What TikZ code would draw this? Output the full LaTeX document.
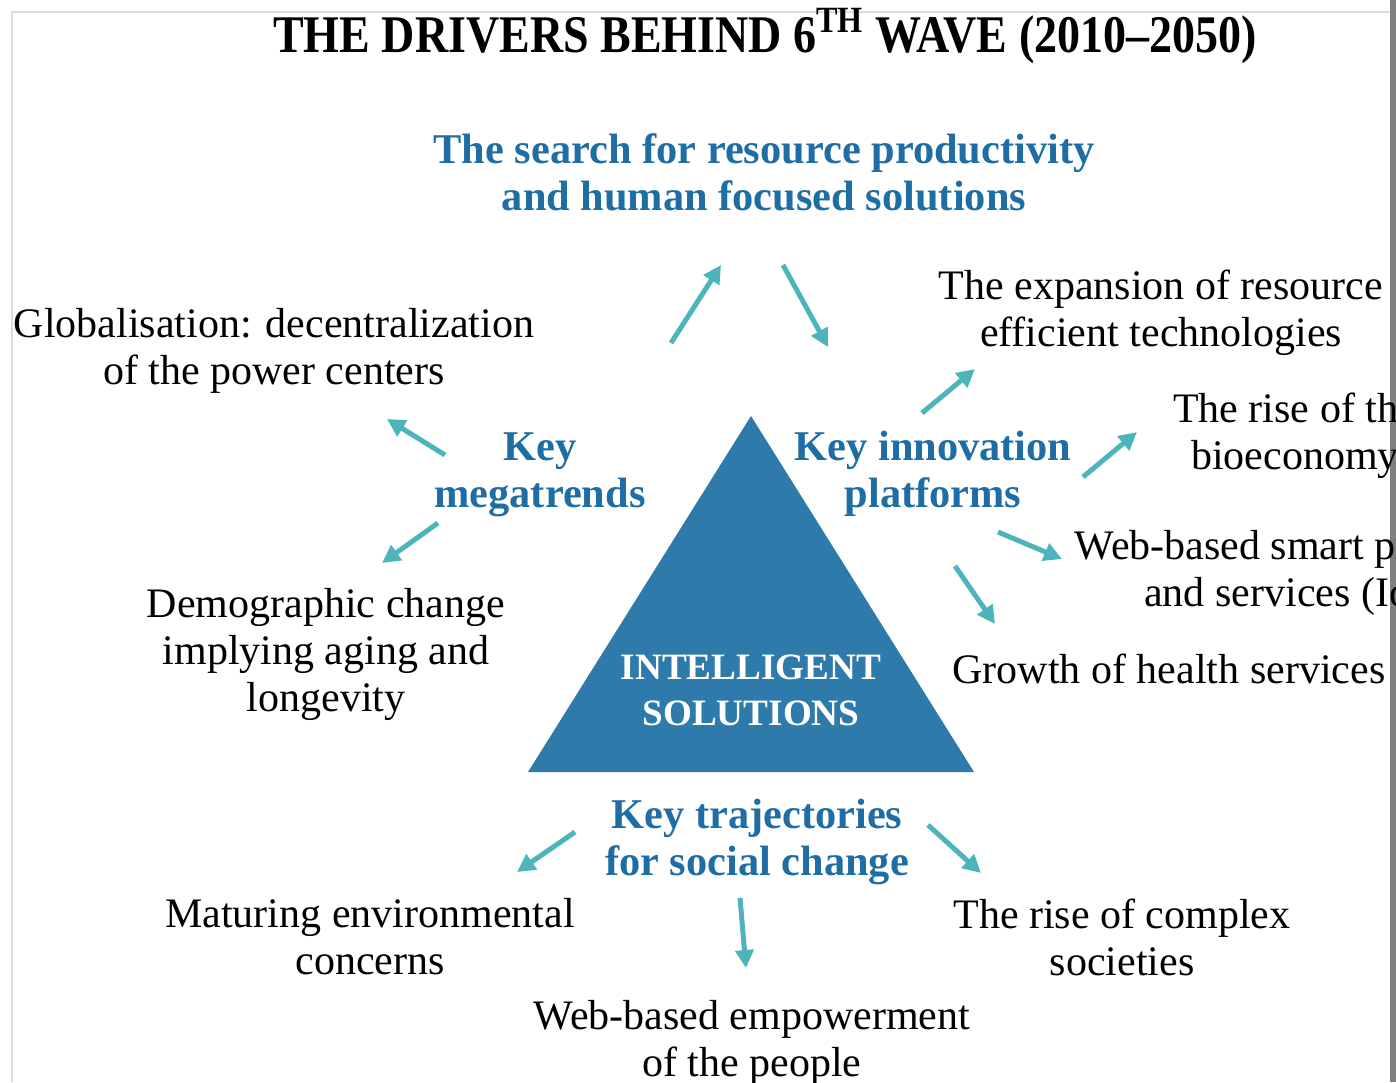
\documentclass[tikz,border=0pt]{standalone}
\usepackage{fontspec}
\setmainfont{Liberation Serif}
\usepackage{xcolor}
\usetikzlibrary{arrows.meta,positioning}
\definecolor{headblue}{RGB}{30,110,165}
\definecolor{triblue}{RGB}{46,123,171}
\definecolor{arrowteal}{RGB}{77,180,188}
\definecolor{framegray}{RGB}{220,220,220}
\definecolor{bargray}{RGB}{128,128,128}

\begin{document}
\begin{tikzpicture}[x=0.5pt,y=-0.5pt,
    item/.style={align=center,inner sep=0pt,font=\fontsize{21}{23.5}\selectfont},
    head/.style={item,text=headblue,font=\fontsize{21.2}{23.5}\selectfont\bfseries},
    pointer/.style={arrowteal,line width=2.5pt,-{Triangle[length=9pt,width=9pt]}}]
    \useasboundingbox (0,0) rectangle (1396,1082);
    \clip (0,0) rectangle (1396,1082);

    % Frame
    \draw[framegray,line width=1pt] (12,1082) -- (12,12) -- (1391,12);
    \fill[bargray] (1390,0) rectangle (1396,1082);

    % Title
    \node (title) at (765,36) {\scalebox{1}[1.15]{\fontsize{23}{26}\selectfont\bfseries THE DRIVERS BEHIND 6\textsuperscript{TH} WAVE (2010--2050)}};

    % Core
    \fill[triblue] (751,416) -- (974,772) -- (528,772) -- cycle;
    \node[item,text=white,font=\fontsize{18.6}{23}\selectfont\bfseries] (core) at (751,690) {INTELLIGENT\\SOLUTIONS};

    % Headings
    \node[head] (search) at (764,172) {The search for resource productivity\\and human focused solutions};
    \node[head] (megatrends) at (540,475) {Key\\megatrends};
    \node[head] (platforms) at (933,474) {Key innovation\\platforms};
    \node[head] (trajectories) at (757,842) {Key trajectories\\for social change};

    % Drivers
    \node[item] (global) at (274,351) {Globalisation: decentralization\\of the power centers};
    \node[item] (demo) at (326,654) {Demographic change\\implying aging and\\longevity};
    \node[item] (expansion) at (1161,313) {The expansion of resource\\efficient technologies};
    \node[item] (bio) at (1295,436) {The rise of the\\bioeconomy};
    \node[item] (smart) at (1297,573) {Web-based smart products\\and services (IoT)};
    \node[item] (health) at (1169,669) {Growth of health services};
    \node[item] (maturing) at (370,937) {Maturing environmental\\concerns};
    \node[item] (complex) at (1122,937) {The rise of complex\\societies};
    \node[item] (empower) at (752,1043) {Web-based empowerment\\of the people};

    % Arrows
    \coordinate (s1) at (671,343); \coordinate (s2) at (721,265);
    \coordinate (s3) at (783,265); \coordinate (s4) at (828,347);
    \coordinate (m1) at (445,455); \coordinate (m2) at (387,419);
    \coordinate (m3) at (438,523); \coordinate (m4) at (382,563);
    \coordinate (p1) at (922,413); \coordinate (p2) at (975,369);
    \coordinate (p3) at (1083,477); \coordinate (p4) at (1137,432);
    \coordinate (p5) at (998,532); \coordinate (p6) at (1062,559);
    \coordinate (p7) at (955,566); \coordinate (p8) at (995,624);
    \coordinate (t1) at (575,832); \coordinate (t2) at (517,872);
    \coordinate (t3) at (928,825); \coordinate (t4) at (981,873);
    \coordinate (t5) at (740,898); \coordinate (t6) at (746,968);
    \draw[pointer] (s1) -- (s2);
    \draw[pointer] (s3) -- (s4);
    \draw[pointer] (m1) -- (m2);
    \draw[pointer] (m3) -- (m4);
    \draw[pointer] (p1) -- (p2);
    \draw[pointer] (p3) -- (p4);
    \draw[pointer] (p5) -- (p6);
    \draw[pointer] (p7) -- (p8);
    \draw[pointer] (t1) -- (t2);
    \draw[pointer] (t3) -- (t4);
    \draw[pointer] (t5) -- (t6);
\end{tikzpicture}
\end{document}
